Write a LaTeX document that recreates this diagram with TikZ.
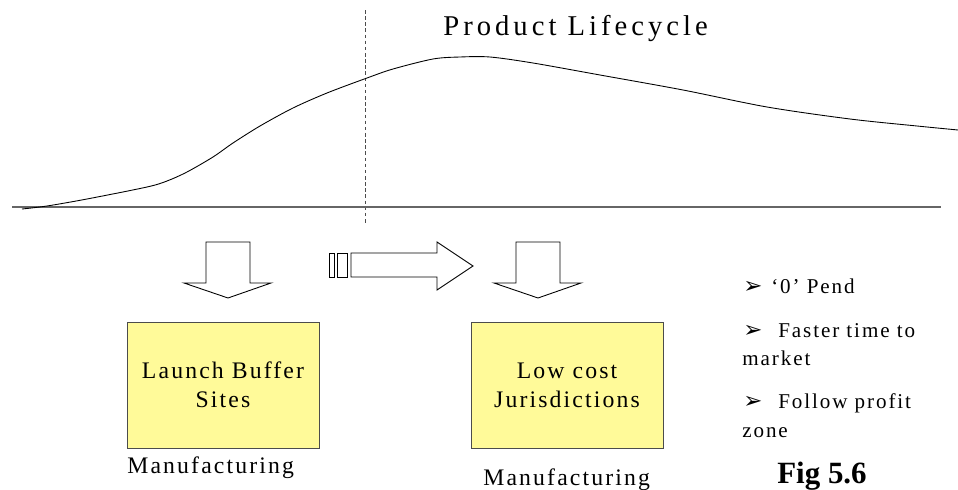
\documentclass[tikz,border=0pt]{standalone}
\usepackage{fontspec}
\setmainfont{Liberation Serif}[LetterSpace=9]
\newfontfamily\titlefont{Liberation Serif}[LetterSpace=14]
\newfontfamily\figfont{Liberation Serif}
\newfontfamily\dingfont{DejaVu Sans}
\usetikzlibrary{positioning}
\newcommand{\pointer}{{\dingfont\fontsize{13}{14}\selectfont\char"27A2}}

\begin{document}
\begin{tikzpicture}[x=0.02cm, y=-0.02cm,
    sitebox/.style={draw=black!70, fill=yellow!40, line width=0.5pt, minimum width=3.84cm, minimum height=2.52cm, align=center, inner sep=0pt, font=\fontsize{13.5}{16.4}\selectfont},
    blockarrow/.style={draw=black, fill=white, line width=0.5pt},
    caption/.style={anchor=base west, inner sep=0pt, font=\fontsize{13.5}{16}\selectfont},
    point/.style={anchor=base west, inner sep=0pt, font=\fontsize{12}{14}\selectfont}]
    \useasboundingbox (0,0) rectangle (958,490);

    % lifecycle curve
    \node[anchor=base west, inner sep=0pt, font=\titlefont\fontsize{16.3}{19}\selectfont] (title) at (443,35) {Product Lifecycle};
    \draw[black!70, line width=0.4pt, dash pattern=on 2pt off 1.5pt] (365,10) -- (365,223);
    \draw[line width=1.4pt, black!60] (12,207) -- (941,207);
    \draw[line width=0.5pt] plot[smooth, tension=0.5] coordinates {(22,209) (47,206) (87,199) (147,187) (167,181) (187,172) (213,157) (233,143) (260,126) (293,108) (327,93) (367,78) (393,69) (433,59) (460,57) (490,57) (533,63) (600,75) (683,90) (767,107) (850,119) (917,126) (958,130)};

    % arrows
    \draw[blockarrow] (206,242) -- (250,242) -- (250,283) -- (271,283) -- (228,298) -- (184,283) -- (206,283) -- cycle;
    \draw[blockarrow] (329,253) rectangle (334,277);
    \draw[blockarrow] (337,253) rectangle (347,277);
    \draw[blockarrow] (351,253) -- (437,253) -- (437,242) -- (473,266) -- (437,290) -- (437,277) -- (351,277) -- cycle;
    \draw[blockarrow] (516,242) -- (560,242) -- (560,283) -- (581,283) -- (538,298) -- (494,283) -- (516,283) -- cycle;

    % sites
    \node[sitebox] (buffer) at (223,385) {Launch Buffer\\Sites};
    \node[sitebox] (lowcost) at (567,385) {Low cost\\Jurisdictions};
    \node[caption] (mfg1) at (127,473) {Manufacturing};
    \node[caption] (mfg2) at (483,485) {Manufacturing};

    % points
    \node[point] (pend) at (743,293) {\pointer\hspace{5pt}‘0’ Pend};
    \node[point] (faster) at (743,337) {\pointer\hspace{9pt}Faster time to};
    \node[point] (market) at (742,365) {market};
    \node[point] (profit) at (743,408) {\pointer\hspace{9pt}Follow profit};
    \node[point] (zone) at (742,437) {zone};
    \node[anchor=base west, inner sep=0pt, font=\figfont\bfseries\fontsize{17.6}{20}\selectfont] (fig) at (777,483) {Fig 5.6};
\end{tikzpicture}
\end{document}
